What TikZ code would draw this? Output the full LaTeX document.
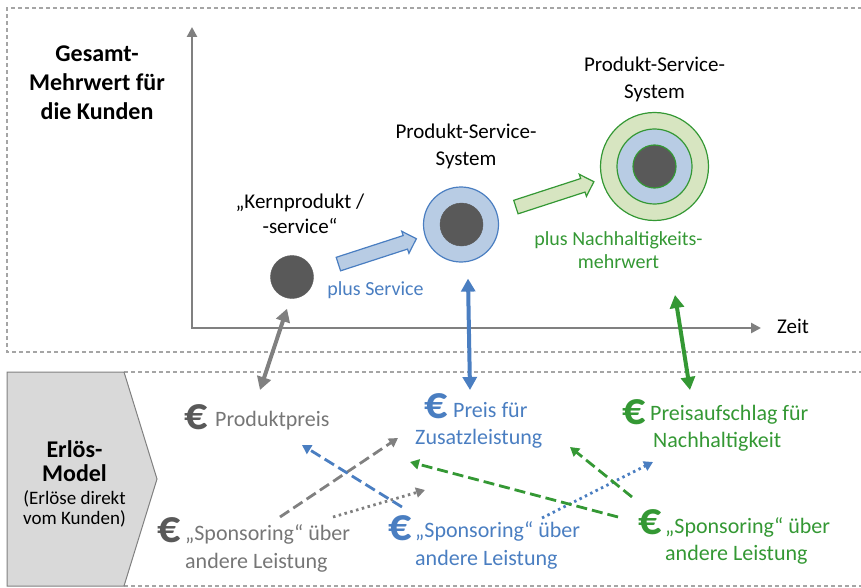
\documentclass[tikz,border=0pt]{standalone}
\usepackage{fontspec}
\setmainfont{Carlito}
\usetikzlibrary{arrows.meta,shapes.arrows}

\definecolor{axisgrey}{RGB}{128,128,128}
\definecolor{textgrey}{RGB}{118,118,118}
\definecolor{darkgrey}{RGB}{89,89,89}
\definecolor{pssblue}{RGB}{74,126,193}
\definecolor{lightblue}{RGB}{184,204,228}
\definecolor{pssgreen}{RGB}{52,152,52}
\definecolor{lightgreen}{RGB}{215,229,193}
\definecolor{framegrey}{RGB}{165,165,165}
\definecolor{boxgrey}{RGB}{217,217,217}

\newcommand{\titlefont}{\fontsize{24}{28}\selectfont\bfseries}
\newcommand{\pssfont}{\fontsize{21}{25}\selectfont}
\newcommand{\plusfont}{\fontsize{20}{24}\selectfont}
\newcommand{\revfont}{\fontsize{22}{26}\selectfont}
\newcommand{\notefont}{\fontsize{19}{22}\selectfont}
\newcommand{\eurofont}{\fontsize{46}{48}\selectfont\bfseries}

\begin{document}
\begin{tikzpicture}[x=1pt,y=-1pt,
	frame/.style={framegrey,line width=1.2pt,dash pattern=on 4pt off 3pt},
	axis/.style={axisgrey,line width=2.6pt,{Triangle[length=10pt,width=10pt]}-{Triangle[length=10pt,width=10pt]}},
	core/.style={circle,draw=darkgrey,fill=darkgrey,minimum size=43pt,inner sep=0pt},
	ring/.style={circle,line width=1.2pt,minimum size=#1,inner sep=0pt},
	push/.style={single arrow,minimum height=82pt,inner sep=6.5pt,single arrow head extend=4.5pt,line width=1.2pt},
	link/.style={line width=4pt,{Triangle[length=13pt,width=14pt]}-{Triangle[length=13pt,width=14pt]}},
	crossdash/.style={line width=2.8pt,dash pattern=on 11pt off 5pt,-{Triangle[length=9pt,width=10pt]}},
	crossdot/.style={line width=2.8pt,dash pattern=on 2.5pt off 3.5pt,-{Triangle[length=9pt,width=10pt]}},
	line/.style={anchor=base west,inner sep=0pt}]
	\useasboundingbox (0,0) rectangle (861,588);

	%frames
	\draw[frame] (870,352) -- (7,352) -- (7,8) -- (870,8);
	\draw[frame] (124,372) -- (870,372);
	\draw[frame] (124,586) -- (870,586);
	\filldraw[fill=boxgrey,draw=axisgrey,line width=1pt] (7,372) -- (124,372) -- (157,479) -- (124,586) -- (7,586) -- cycle;

	%axes
	\coordinate (origin) at (192,328);
	\coordinate (ytip) at (192,27);
	\coordinate (xtip) at (761,328);
	\draw[axis] (ytip) -- (origin) -- (xtip);
	\node[line] (zeit) at (777,333) {\pssfont Zeit};

	%title labels
	\node[anchor=base] (goal1) at (97,62)  {\titlefont Gesamt-};
	\node[anchor=base] (goal2) at (97,91)  {\titlefont Mehrwert für};
	\node[anchor=base] (goal3) at (97,120) {\titlefont die Kunden};
	%
	\node[anchor=base] (rev1) at (74.5,457) {\titlefont Erlös-};
	\node[anchor=base] (rev2) at (74.5,481) {\titlefont Model};
	\node[anchor=base] (rev3) at (74.5,504) {\notefont (Erlöse direkt};
	\node[anchor=base] (rev4) at (74.5,524) {\notefont vom Kunden)};

	%circles
	\node[core] (core1) at (292,277) {};
	\node[ring=75pt,draw=pssblue,fill=lightblue] (pss1) at (461,224.5) {};
	\node[core] (core2) at (461.5,224.5) {};
	\node[ring=108pt,draw=pssgreen,fill=lightgreen] (eco) at (654.5,166.5) {};
	\node[ring=75pt,draw=pssgreen,fill=lightblue] (pss2) at (654.5,166.5) {};
	\node[core,draw=pssgreen,line width=1.2pt] (core3) at (654.5,166.5) {};

	%block arrows
	\node[push,draw=pssblue,fill=lightblue,rotate=18] (more1) at (374,252.5) {};
	\node[push,draw=pssgreen,fill=lightgreen,rotate=18] (more2) at (551.5,195.5) {};

	%circle labels
	\node[anchor=base] (corea) at (300,208) {\pssfont „Kernprodukt /};
	\node[anchor=base] (coreb) at (300,233) {\pssfont -service“};
	\node[anchor=base] (pss1a) at (466,139) {\pssfont Produkt-Service-};
	\node[anchor=base] (pss1b) at (466,166) {\pssfont System};
	\node[anchor=base] (pss2a) at (654.5,72) {\pssfont Produkt-Service-};
	\node[anchor=base] (pss2b) at (654.5,99) {\pssfont System};
	\node[anchor=base,text=pssblue] (plus1) at (375.5,295) {\plusfont plus Service};
	\node[anchor=base,text=pssgreen] (plus2a) at (618.5,245) {\plusfont plus Nachhaltigkeits-};
	\node[anchor=base,text=pssgreen] (plus2b) at (618.5,268) {\plusfont mehrwert};

	%revenue labels
	\node[text=darkgrey,inner sep=0pt] (ppeuro) at (196,417) {\eurofont €};
	\node[line,text=textgrey] (pp) at (215,426) {\revfont Produktpreis};
	%
	\node[text=pssblue,inner sep=0pt] (zseuro) at (436,406) {\eurofont €};
	\node[line,text=pssblue] (zs1) at (453,417) {\revfont Preis für};
	\node[line,text=pssblue] (zs2) at (415,444) {\revfont Zusatzleistung};
	%
	\node[text=pssgreen,inner sep=0pt] (naeuro) at (634,412) {\eurofont €};
	\node[line,text=pssgreen] (na1) at (650,420) {\revfont Preisaufschlag für};
	\node[line,text=pssgreen] (na2) at (653,447) {\revfont Nachhaltigkeit};
	%
	\node[text=darkgrey,inner sep=0pt] (gseuro) at (169,530) {\eurofont €};
	\node[line,text=textgrey] (gs1) at (185,540) {\revfont „Sponsoring“ über};
	\node[line,text=textgrey] (gs2) at (185,568) {\revfont andere Leistung};
	%
	\node[text=pssblue,inner sep=0pt] (bseuro) at (400,528) {\eurofont €};
	\node[line,text=pssblue] (bs1) at (415,537) {\revfont „Sponsoring“ über};
	\node[line,text=pssblue] (bs2) at (415,565) {\revfont andere Leistung};
	%
	\node[text=pssgreen,inner sep=0pt] (nseuro) at (650,522) {\eurofont €};
	\node[line,text=pssgreen] (ns1) at (665,533) {\revfont „Sponsoring“ über};
	\node[line,text=pssgreen] (ns2) at (665,560) {\revfont andere Leistung};

	%value to price
	\coordinate (ppTop) at (260,390);
	\coordinate (zsTop) at (470,390);
	\coordinate (ecoLow) at (675,295);
	\coordinate (naTop) at (690,390);
	\draw[link,axisgrey] ([xshift=-5pt,yshift=-10pt]core1.south) -- (ppTop);
	\draw[link,pssblue] ([xshift=7pt,yshift=-16pt]pss1.south) -- (zsTop);
	\draw[link,pssgreen] (ecoLow) -- (naTop);

	%cross subsidies
	\coordinate (gsOutA) at (280,517);
	\coordinate (gsOutB) at (333,517);
	\coordinate (bsOutA) at (402,507);
	\coordinate (bsOutB) at (542,518);
	\coordinate (nsOutA) at (618,517);
	\coordinate (nsOutB) at (632,497);
	\coordinate (zsIn) at (398,438);
	\coordinate (ppIn) at (302,445);
	\coordinate (bsIn) at (425,490);
	\coordinate (zsInB) at (410,462);
	\coordinate (zsInC) at (570,447);
	\coordinate (naIn) at (653,462);
	\draw[crossdash,axisgrey] (gsOutA) -- (zsIn);
	\draw[crossdot,axisgrey] (gsOutB) -- (bsIn);
	\draw[crossdash,pssblue] (bsOutA) -- (ppIn);
	\draw[crossdot,pssblue] (bsOutB) -- (naIn);
	\draw[crossdash,pssgreen] (nsOutA) -- (zsInB);
	\draw[crossdash,pssgreen] (nsOutB) -- (zsInC);

	%\draw[help lines,step=50] (0,0) grid (861,588);
\end{tikzpicture}
\end{document}
